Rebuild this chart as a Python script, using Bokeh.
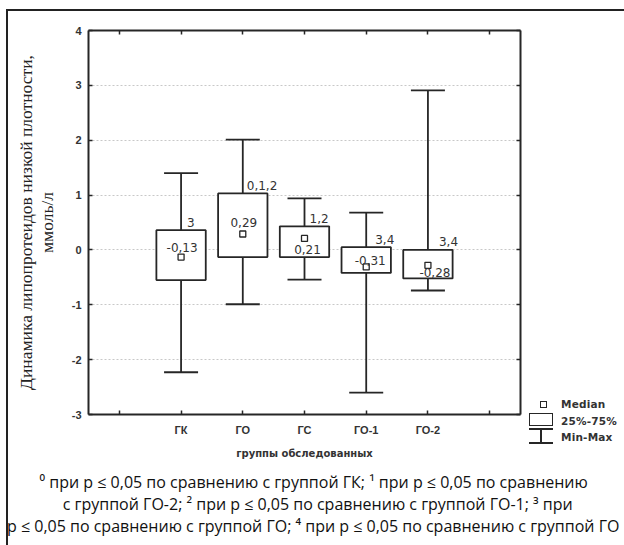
from bokeh.plotting import figure
from bokeh.models import (FixedTicker, LinearAxis, Range1d, ColumnDataSource, Div, Spacer)
from bokeh.layouts import row, column
from bokeh.embed import file_html
from bokeh.resources import INLINE
from bokeh.core.properties import value

# ---------------- data ----------------
groups = ["ГК", "ГО", "ГС", "ГО-1", "ГО-2"]
medians = [-0.13, 0.29, 0.21, -0.31, -0.28]
q1 = [-0.55, -0.13, -0.13, -0.42, -0.52]
q3 = [0.36, 1.03, 0.43, 0.05, 0.00]
mins = [-2.23, -0.99, -0.54, -2.60, -0.74]
maxs = [1.40, 2.01, 0.94, 0.68, 2.91]
signif = ["3", "0,1,2", "1,2", "3,4", "3,4"]
y_ticks = [-3, -2, -1, 0, 1, 2, 3, 4]

y_title_1 = "Динамика липопротеидов низкой плотности,"
y_title_2 = "ммоль/л"
x_title = "группы обследованных"
legend_labels = ["Median", "25%-75%", "Min-Max"]
footnotes = [
    "\u2070 при p \u2264 0,05 по сравнению с группой ГК; \u00b9 при p \u2264 0,05 по сравнению",
    "с группой ГО-2; \u00b2 при p \u2264 0,05 по сравнению с группой ГО-1; \u00b3 при",
    "p \u2264 0,05 по сравнению с группой ГО; \u2074 при p \u2264 0,05 по сравнению с группой ГО",
]

# ---------------- layout (not data) ----------------
med_dx = [1, 1, 3, 4, 7]
med_dy = [-10, -12, 11, -6, 7]      # screen px, positive = down
sig_dx = [6, 4, 5, 9, 11]

INK = "#262626"
TXT = "#333333"
xpos = list(range(1, len(groups) + 1))
src = ColumnDataSource(dict(
    x=xpos, med=medians, q1=q1, q3=q3, lo=mins, hi=maxs, sig=signif,
    medtxt=[f"{m:.2f}".replace(".", ",") for m in medians],
    mdx=med_dx, mdy=med_dy, sdx=sig_dx,
))

P_W, P_H = 516, 460
p = figure(width=P_W, height=P_H, output_backend="svg", toolbar_location=None,
           x_range=Range1d(-0.5, 6.5), y_range=Range1d(-3, 4),
           min_border_left=80, min_border_right=4, min_border_top=19,
           min_border_bottom=57, background_fill_color="white",
           border_fill_color="white", margin=0)
p.outline_line_color = None
p.xgrid.visible = False
p.ygrid.ticker = FixedTicker(ticks=y_ticks)
p.ygrid.grid_line_color = "#c8c8c8"
p.ygrid.grid_line_dash = "2 2"
p.ygrid.grid_line_width = 1


def style_axis(ax):
    ax.axis_line_color = INK
    ax.axis_line_width = 2
    ax.major_tick_line_color = INK
    ax.major_tick_line_width = 1.5
    ax.major_tick_in = 4
    ax.major_tick_out = 0
    ax.minor_tick_line_color = None
    ax.major_label_text_font = "Liberation Sans"
    ax.major_label_text_font_style = "bold"
    ax.major_label_text_font_size = "11px"
    ax.major_label_text_color = TXT


style_axis(p.xaxis[0])
style_axis(p.yaxis[0])

x_ticks = list(range(0, len(groups) + 2))
p.xaxis.ticker = FixedTicker(ticks=x_ticks)
ov = {t: "" for t in x_ticks}
ov.update({i + 1: g for i, g in enumerate(groups)})
p.xaxis.major_label_overrides = ov
p.xaxis.major_label_standoff = 9
p.xaxis.axis_label = x_title
p.xaxis.axis_label_text_font = "DejaVu Sans"
p.xaxis.axis_label_text_font_style = "bold"
p.xaxis.axis_label_text_font_size = "10px"
p.xaxis.axis_label_text_color = TXT
p.xaxis.axis_label_standoff = 9

p.yaxis.ticker = FixedTicker(ticks=y_ticks)
p.yaxis.major_label_overrides = {t: str(t) for t in y_ticks}
p.yaxis.major_label_standoff = 7
p.yaxis.axis_label = y_title_2
p.yaxis.axis_label_text_font = "Liberation Serif"
p.yaxis.axis_label_text_font_style = "normal"
p.yaxis.axis_label_text_font_size = "17.5px"
p.yaxis.axis_label_text_color = "#222222"
p.yaxis.axis_label_standoff = 12

# outer y title line (second left axis, label only)
ax_t = LinearAxis(ticker=FixedTicker(ticks=[]), axis_label=y_title_1)
ax_t.axis_line_color = None
ax_t.major_tick_line_color = None
ax_t.minor_tick_line_color = None
ax_t.major_label_standoff = 0
ax_t.axis_label_text_font = "Liberation Serif"
ax_t.axis_label_text_font_style = "normal"
ax_t.axis_label_text_font_size = "17.5px"
ax_t.axis_label_text_color = "#222222"
ax_t.axis_label_standoff = -2
p.add_layout(ax_t, "left")

for side, ticks in (("above", x_ticks), ("right", y_ticks)):
    ax = LinearAxis(ticker=FixedTicker(ticks=ticks))
    style_axis(ax)
    ax.major_label_overrides = {t: "" for t in ticks}
    ax.major_label_standoff = 0
    p.add_layout(ax, side)

# whiskers
p.segment(x0="x", y0="lo", x1="x", y1="hi", source=src, line_color=INK, line_width=1.8)
p.scatter(x="x", y="hi", source=src, marker="dash", size=34, line_color=INK, line_width=1.8)
p.scatter(x="x", y="lo", source=src, marker="dash", size=34, line_color=INK, line_width=1.8)
# boxes
p.vbar(x="x", bottom="q1", top="q3", width=0.8, source=src, fill_color="white",
       line_color=INK, line_width=1.8)
# medians
p.scatter(x="x", y="med", source=src, marker="square", size=6, fill_color="white",
          line_color=INK, line_width=1.3)

p.text(x="x", y="med", text="medtxt", source=src, x_offset="mdx", y_offset="mdy",
       text_align="center", text_baseline="middle", text_font=value("DejaVu Sans"),
       text_font_size="12px", text_color=TXT)
p.text(x="x", y="q3", text="sig", source=src, x_offset="sdx", y_offset=-8,
       text_align="left", text_baseline="middle", text_font=value("DejaVu Sans"),
       text_font_size="12px", text_color=TXT)

# ---------------- legend panel (HTML, pixel positions) ----------------
L_W = 100


def box(l, t, w, h, css):
    return (f'<div style="position:absolute;left:{l}px;top:{t}px;width:{w}px;'
            f'height:{h}px;box-sizing:border-box;{css}"></div>')


icons = (
    box(16, 390, 7, 7, f"border:1.3px solid {INK};background:#fff;")
    + box(5, 402, 24, 13, f"border:1.5px solid {INK};background:#fff;")
    + box(5, 417, 24, 1.5, f"background:{INK};")
    + box(16, 417, 1.5, 15.5, f"background:{INK};")
    + box(5, 431, 24, 1.5, f"background:{INK};")
)
texts = "".join(
    f'<div style="position:absolute;left:37px;top:{cy - 7}px;height:14px;'
    f'line-height:14px;white-space:nowrap;">{t}</div>'
    for cy, t in zip((393, 410, 426), legend_labels))
leg = Div(text=f'<div style="position:relative;width:{L_W}px;height:{P_H}px;">'
               f'{icons}{texts}</div>',
          width=L_W, height=P_H, margin=0,
          styles={"font-family": "'DejaVu Sans'", "font-weight": "bold",
                  "font-size": "10.5px", "color": TXT, "letter-spacing": "0.2px"})

# ---------------- footnotes ----------------
NOTES_W, NOTES_H = P_W + L_W, 74
pads = ["text-align:center;", "padding-left:8px;text-align:center;",
        "margin-left:-1px;text-align:left;"]
html = "".join(f'<div style="{pd}white-space:nowrap;">{t}</div>'
               for pd, t in zip(pads, footnotes))
notes = Div(text=html, width=NOTES_W, height=NOTES_H, margin=0,
            styles={"font-family": "'Open Sans'", "font-size": "16px",
                    "line-height": "22px", "color": "#111111"})

# ---------------- outer frame lines (left/top) ----------------
hline = Div(text="", width=NOTES_W + 2, height=2, background="#222222", margin=0)
vline = Div(text="", width=2, height=P_H + NOTES_H, background="#222222", margin=0)

body = column(row(p, leg, spacing=0), notes, spacing=0)
framed = column(hline, row(vline, body, spacing=0), spacing=0)
layout = column(Spacer(height=9, margin=0),
                row(Spacer(width=6, margin=0), framed, spacing=0), spacing=0)

open("out.html", "w").write(file_html(layout, INLINE))
